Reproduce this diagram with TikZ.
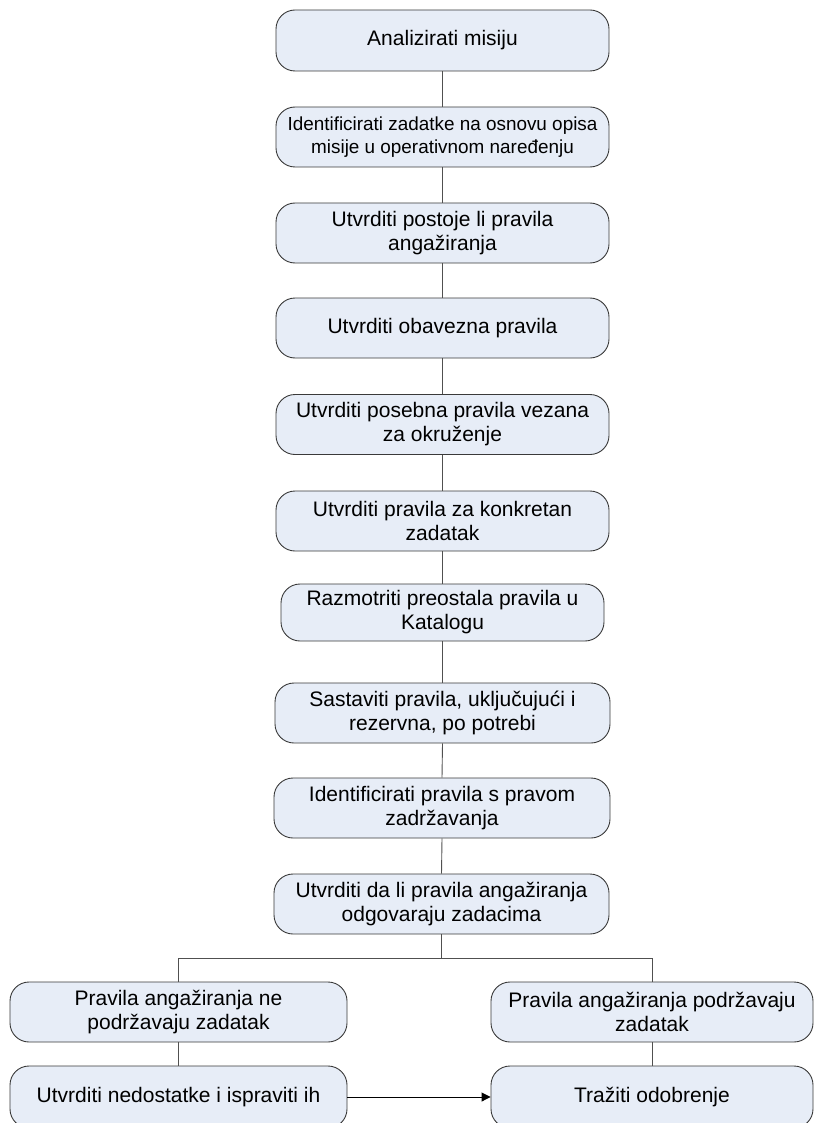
\documentclass[tikz,border=0pt]{standalone}
\usepackage{fontspec}
\setmainfont{Liberation Sans}
\usetikzlibrary{arrows.meta}
\definecolor{boxfill}{HTML}{E7EDF7}
\definecolor{boxline}{HTML}{3A3A3A}
\definecolor{conline}{HTML}{505050}
\begin{document}
\begin{tikzpicture}[x=1pt,y=-1pt,
  stepbox/.style={draw=boxline, line width=0.9pt, fill=boxfill, rounded corners=19pt,
     minimum height=60pt, align=center, inner sep=2pt,
     font=\fontsize{21}{24}\selectfont},
  conn/.style={draw=conline, line width=0.9pt},
  arr/.style={draw=black, line width=0.9pt, -{Triangle[length=9pt,width=9pt]}}]
\useasboundingbox (0,0) rectangle (814,1123);
\clip (0,0) rectangle (814,1123);
\node[stepbox, minimum width=333pt, minimum height=61pt] (b1) at (442.5,40.5) {Analizirati misiju};
\node[stepbox, minimum width=333pt, font=\fontsize{18.9}{23}\selectfont] (b2) at (442.5,137) {Identificirati zadatke na osnovu opisa\\misije u operativnom naređenju};
\node[stepbox, minimum width=333pt] (b3) at (442.5,233) {Utvrditi postoje li pravila\\angažiranja};
\node[stepbox, minimum width=333pt] (b4) at (442.5,328) {Utvrditi obavezna pravila};
\node[stepbox, minimum width=333pt] (b5) at (442.5,424.5) {Utvrditi posebna pravila vezana\\za okruženje};
\node[stepbox, minimum width=333pt] (b6) at (442.5,521) {Utvrditi pravila za konkretan\\zadatak};
\node[stepbox, minimum width=323pt, minimum height=57pt] (b7) at (442.5,612.5) {Razmotriti preostala pravila u\\Katalogu};
\node[stepbox, minimum width=335pt] (b8) at (442.5,713) {Sastaviti pravila, uključujući i\\rezervna, po potrebi};
\node[stepbox, minimum width=336pt] (b9) at (442,808) {Identificirati pravila s pravom\\zadržavanja};
\node[stepbox, minimum width=335pt] (b10) at (441.5,904) {Utvrditi da li pravila angažiranja\\odgovaraju zadacima};
\node[stepbox, minimum width=337pt] (l1) at (178.5,1012) {Pravila angažiranja ne\\podržavaju zadatak};
\node[stepbox, minimum width=322pt] (r1) at (652,1012) {Pravila angažiranja podržavaju\\zadatak};
\node[stepbox, minimum width=337pt, minimum height=62pt] (l2) at (178.5,1097) {Utvrditi nedostatke i ispraviti ih};
\node[stepbox, minimum width=322pt, minimum height=62pt] (r2) at (652,1097) {Tražiti odobrenje};
\foreach \a/\b in {b1/b2,b2/b3,b3/b4,b4/b5,b5/b6,b6/b7,b7/b8,b8/b9,b9/b10}
  \draw[conn] (\a.south) -- (\b.north);
\coordinate (split) at (441.5,958);
\draw[conn] (b10.south) -- (split);
\draw[conn] (l1.north) |- (split) -| (r1.north);
\draw[conn] (l1.south) -- (l2.north);
\draw[conn] (r1.south) -- (r2.north);
\draw[arr] (l2.east) -- (r2.west);
\end{tikzpicture}
\end{document}
